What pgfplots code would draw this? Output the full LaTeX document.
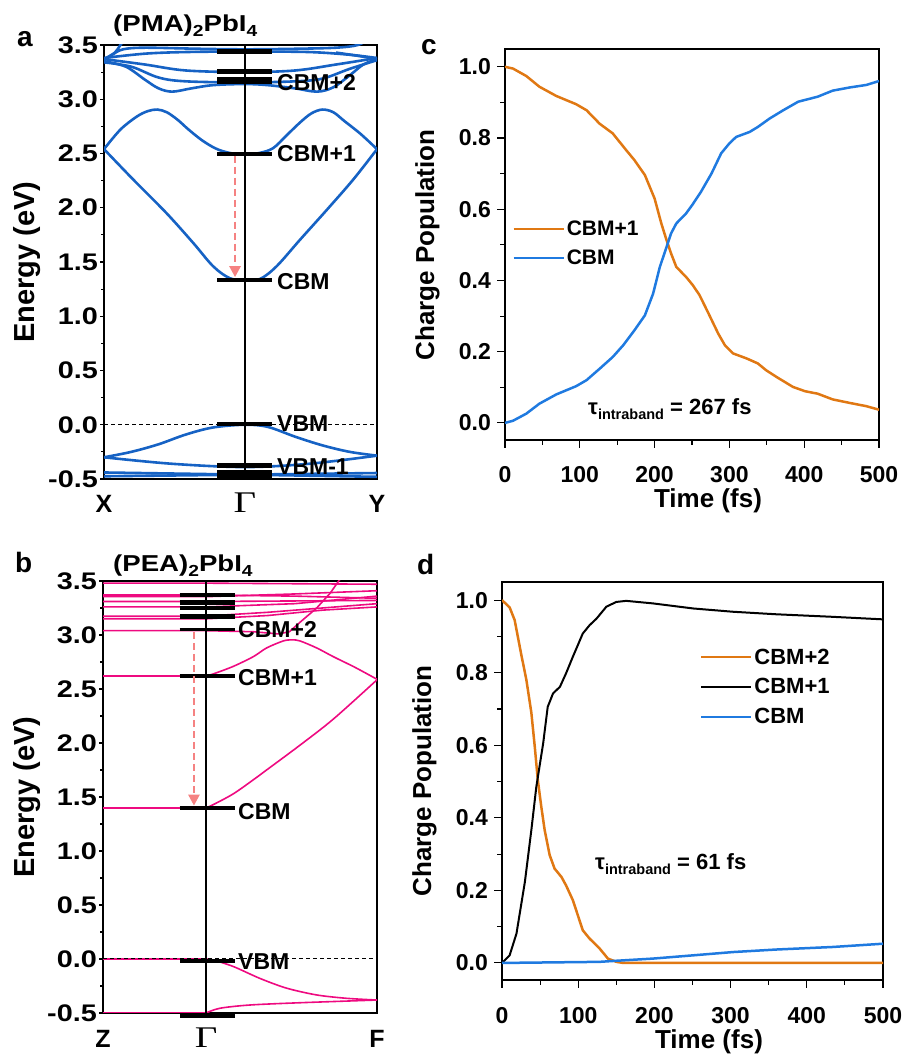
\documentclass[border=0pt]{standalone}
\usepackage{pgfplots}
\pgfplotsset{compat=1.18}
\usepackage{fontspec}
\setmainfont{Liberation Sans}
\newfontfamily\gfont{Liberation Serif}
\usepackage{graphicx}
\usetikzlibrary{arrows.meta}
\definecolor{bandblue}{HTML}{1662C4}
\definecolor{bandpink}{HTML}{EE0A80}
\definecolor{popor}{HTML}{E07813}
\definecolor{popbl}{HTML}{1F7AE0}
\definecolor{arrowc}{HTML}{F58282}
\newcommand\fs[1]{\fontsize{#1}{#1}\selectfont}
\newcommand\wt[1]{\scalebox{1.2}[1]{#1}}
\newcommand\G{\scalebox{1.3}[1]{\gfont\mdseries\fs{30}Γ}}

\pgfplotsset{
  bandax/.style={scale only axis, xmin=0, xmax=1, ymin=-0.5, ymax=3.5,
    axis line style={line width=1.3pt}, tick align=outside,
    ytick pos=left, xtick pos=bottom,
    ytick={-0.5,0,0.5,1,1.5,2,2.5,3,3.5}, minor y tick num=1,
    yticklabels={\wt{-0.5},\wt{0.0},\wt{0.5},\wt{1.0},\wt{1.5},\wt{2.0},\wt{2.5},\wt{3.0},\wt{3.5}},
    major tick length=4pt, minor tick length=3pt,
    tick style={black, line width=1.1pt},
    yticklabel style={font=\bfseries\fs{24}, anchor=east, inner sep=0pt, xshift=-2pt},
    xticklabel style={font=\bfseries\fs{25}, anchor=base, inner sep=0pt, yshift=-30pt},
    major x tick style={draw=none}},
  overax/.style={scale only axis, xmin=0, xmax=1, ymin=-0.5, ymax=3.5,
    hide axis, clip=false},
  popax/.style={scale only axis, xmin=0, xmax=500,
    axis line style={line width=1.3pt}, tick align=outside,
    ytick pos=left, xtick pos=bottom,
    xtick={0,100,200,300,400,500}, minor x tick num=1,
    ytick={0,0.2,0.4,0.6,0.8,1}, yticklabels={0.0,0.2,0.4,0.6,0.8,1.0},
    minor y tick num=1,
    major tick length=8pt, minor tick length=5pt,
    tick style={black, line width=1.1pt},
    /pgf/number format/assume math mode=true,
    yticklabel style={font=\bfseries\fs{23}, anchor=east, inner sep=0pt, xshift=-6pt},
    xticklabel style={font=\bfseries\fs{23}, anchor=base, inner sep=0pt, yshift=-35pt},
    legend cell align=left,
    legend image code/.code={\draw[##1, line width=2.5pt] (0pt,0pt) -- (50pt,0pt);}},
  ab/.style={bandblue, line width=2.6pt, smooth, tension=0.55},
  bb/.style={bandpink, line width=1.6pt},
  bar/.style={black, line width=4.5pt},
}

\begin{document}
\begin{tikzpicture}
\path[use as bounding box] (0pt,0pt) rectangle (906pt,1059pt);

% ---------------- panel a
\begin{axis}[bandax, at={(104pt,580pt)}, anchor=south west,
  width=273pt, height=434pt,
  xtick={0,0.516,1}, xticklabels={X,\G,Y}]
\addplot[ab] coordinates {(0,2.54)(0.06,2.72)(0.12,2.84)(0.16,2.89)(0.195,2.905)(0.23,2.88)(0.27,2.81)(0.31,2.72)(0.36,2.62)(0.41,2.545)(0.46,2.505)(0.516,2.49)(0.57,2.505)(0.62,2.55)(0.67,2.67)(0.72,2.79)(0.76,2.87)(0.80,2.905)(0.84,2.88)(0.88,2.80)(0.94,2.68)(1,2.54)};
\addplot[ab] coordinates {(0,2.54)(0.107,2.26)(0.229,1.95)(0.327,1.675)(0.40,1.46)(0.461,1.35)(0.516,1.335)(0.571,1.343)(0.632,1.46)(0.718,1.705)(0.816,1.98)(0.913,2.26)(1,2.54)};
\addplot[ab] coordinates {(0,3.35)(0.08,3.30)(0.15,3.18)(0.20,3.10)(0.25,3.07)(0.32,3.10)(0.40,3.13)(0.516,3.14)(0.60,3.13)(0.70,3.10)(0.78,3.07)(0.84,3.11)(0.90,3.22)(0.95,3.32)(1,3.37)};
\addplot[ab] coordinates {(0,3.34)(0.10,3.30)(0.20,3.20)(0.30,3.165)(0.516,3.155)(0.70,3.165)(0.80,3.19)(0.90,3.28)(1,3.36)};
\addplot[ab] coordinates {(0,3.37)(0.15,3.32)(0.30,3.265)(0.516,3.25)(0.70,3.265)(0.85,3.32)(1,3.38)};
\addplot[ab] coordinates {(0,3.38)(0.15,3.42)(0.30,3.435)(0.516,3.44)(0.75,3.435)(0.90,3.41)(1,3.38)};
\addplot[ab] coordinates {(0,3.36)(0.03,3.41)(0.07,3.46)(0.15,3.475)(0.35,3.465)(0.516,3.46)(0.70,3.465)(0.85,3.475)(0.93,3.50)(0.97,3.56)};
\addplot[ab] coordinates {(0,3.37)(0.04,3.43)(0.06,3.50)(0.08,3.56)};
\addplot[ab] coordinates {(0.85,3.43)(0.93,3.40)(1,3.37)};
\addplot[ab] coordinates {(0,-0.30)(0.10,-0.25)(0.20,-0.18)(0.30,-0.09)(0.40,-0.025)(0.516,0)(0.60,-0.02)(0.70,-0.11)(0.80,-0.19)(0.90,-0.25)(1,-0.285)};
\addplot[ab] coordinates {(0,-0.30)(0.25,-0.36)(0.516,-0.39)(0.75,-0.36)(1,-0.285)};
\addplot[ab] coordinates {(0,-0.44)(0.516,-0.46)(1,-0.48)};
\addplot[ab] coordinates {(0,-0.475)(0.516,-0.46)(1,-0.445)};
\end{axis}
\begin{axis}[overax, at={(104pt,580pt)}, anchor=south west, width=273pt, height=434pt]
\addplot[black, line width=1pt, dash pattern=on 4pt off 3pt] coordinates {(0,0)(1,0)};
\addplot[black, line width=1.4pt] coordinates {(0.516,-0.5)(0.516,3.5)};
\addplot[bar] coordinates {(0.414,3.44)(0.615,3.44)};
\addplot[bar] coordinates {(0.414,3.255)(0.615,3.255)};
\addplot[bar] coordinates {(0.414,3.185)(0.615,3.185)};
\addplot[bar] coordinates {(0.414,3.165)(0.615,3.165)};
\addplot[bar] coordinates {(0.414,2.497)(0.615,2.497)};
\addplot[bar] coordinates {(0.414,1.336)(0.615,1.336)};
\addplot[bar] coordinates {(0.414,0.009)(0.615,0.009)};
\addplot[bar] coordinates {(0.414,-0.376)(0.615,-0.376)};
\addplot[bar] coordinates {(0.414,-0.44)(0.615,-0.44)};
\addplot[bar] coordinates {(0.414,-0.47)(0.615,-0.47)};
\addplot[arrowc, line width=2.5pt, dash pattern=on 7pt off 4pt,
  -{Triangle[length=11pt,width=11pt]}] coordinates {(0.48,2.48)(0.48,1.36)};
\end{axis}

% ---------------- panel b
\begin{axis}[bandax, at={(103pt,46pt)}, anchor=south west,
  width=274pt, height=432pt,
  xtick={0,0.376,1}, xticklabels={Z,\G,F}]
\addplot[bb] coordinates {(0,3.48)(0.376,3.48)(1,3.47)};
\addplot[bb] coordinates {(0,3.37)(0.376,3.37)(0.7,3.36)(1,3.34)};
\addplot[bb] coordinates {(0,3.355)(0.376,3.355)(0.7,3.38)(1,3.41)};
\addplot[bb] coordinates {(0,3.31)(0.376,3.31)(1,3.32)};
\addplot[bb] coordinates {(0,3.26)(0.376,3.26)(0.7,3.29)(1,3.36)};
\addplot[bb] coordinates {(0,3.175)(0.376,3.175)(0.6,3.21)(1,3.29)};
\addplot[bb] coordinates {(0,3.15)(0.376,3.15)(0.6,3.18)(0.8,3.23)(1,3.26)};
\addplot[bb] coordinates {(0,3.04)(0.376,3.04)(0.55,3.03)(0.64,3.01)(0.68,3.03)(0.72,3.12)(0.78,3.25)(0.83,3.39)(0.86,3.5)(0.88,3.56)};
\addplot[bb] coordinates {(0,2.62)(0.376,2.62)};
\addplot[bb, smooth] coordinates {(0.376,2.62)(0.403,2.64)(0.476,2.71)(0.549,2.80)(0.597,2.88)(0.658,2.945)(0.69,2.955)(0.719,2.945)(0.78,2.88)(0.84,2.80)(0.92,2.70)(1,2.59)};
\addplot[bb] coordinates {(0,1.40)(0.376,1.40)};
\addplot[bb, smooth] coordinates {(0.376,1.40)(0.403,1.43)(0.476,1.53)(0.549,1.66)(0.597,1.75)(0.719,1.98)(0.84,2.22)(1,2.585)};
\addplot[bb] coordinates {(0,0)(0.376,0)};
\addplot[bb, smooth] coordinates {(0.376,0)(0.403,-0.01)(0.476,-0.07)(0.573,-0.18)(0.67,-0.27)(0.78,-0.333)(0.889,-0.364)(1,-0.38)};
\addplot[bb] coordinates {(0,-0.5)(0.376,-0.5)};
\addplot[bb, smooth] coordinates {(0.376,-0.5)(0.427,-0.456)(0.536,-0.426)(0.719,-0.405)(1,-0.38)};
\end{axis}
\begin{axis}[overax, at={(103pt,46pt)}, anchor=south west, width=274pt, height=432pt]
\addplot[black, line width=1pt, dash pattern=on 4pt off 3pt] coordinates {(0,0)(1,0)};
\addplot[black, line width=1.1pt] coordinates {(0.376,-0.5)(0.376,3.5)};
\addplot[bar] coordinates {(0.28,3.37)(0.48,3.37)};
\addplot[bar] coordinates {(0.28,3.30)(0.48,3.30)};
\addplot[bar] coordinates {(0.28,3.25)(0.48,3.25)};
\addplot[bar] coordinates {(0.28,3.17)(0.48,3.17)};
\addplot[black, line width=3pt] coordinates {(0.28,3.055)(0.48,3.055)};
\addplot[bar] coordinates {(0.28,2.62)(0.48,2.62)};
\addplot[bar] coordinates {(0.28,1.40)(0.48,1.40)};
\addplot[bar] coordinates {(0.28,-0.02)(0.48,-0.02)};
\addplot[bar] coordinates {(0.28,-0.525)(0.48,-0.525)};
\addplot[arrowc, line width=2.5pt, dash pattern=on 7pt off 4pt,
  -{Triangle[length=11pt,width=11pt]}] coordinates {(0.332,3.03)(0.332,1.42)};
\end{axis}

% ---------------- panel c
\begin{axis}[popax, at={(505pt,619pt)}, anchor=south west,
  width=374pt, height=391pt, ymin=-0.048, ymax=1.05,
  legend style={at={(0.019,0.566)}, anchor=north west, draw=none, fill=none,
    font=\bfseries\fs{21}, row sep=9pt, inner sep=0pt}]
\addplot[popor, line width=2.5pt] coordinates {(0,1.0)(10.7,0.995)(28.5,0.974)(46,0.944)(68.6,0.918)(95,0.895)(109,0.878)(126.6,0.84)(144,0.813)(162,0.766)(173,0.738)(187,0.696)(200,0.63)(209,0.56)(216,0.513)(222,0.476)(229,0.438)(242,0.41)(251,0.387)(260,0.359)(271,0.312)(285,0.251)(294,0.218)(305,0.195)(323,0.181)(338,0.167)(349,0.148)(363,0.129)(385,0.101)(401,0.089)(418,0.082)(438,0.066)(461,0.056)(483,0.047)(500,0.037)};
\addlegendentry{CBM+1}
\addplot[popbl, line width=2.5pt] coordinates {(0,0)(10.7,0.006)(28.5,0.026)(46,0.054)(68.6,0.080)(95,0.103)(109,0.12)(127,0.153)(144,0.185)(158,0.218)(173,0.26)(187,0.302)(198,0.363)(207,0.438)(216,0.494)(222,0.532)(229,0.56)(242,0.588)(251,0.614)(262,0.649)(276,0.70)(289,0.757)(300,0.785)(309,0.803)(327,0.817)(338,0.831)(354,0.855)(372,0.878)(392,0.902)(418,0.916)(438,0.933)(461,0.942)(483,0.949)(500,0.96)};
\addlegendentry{CBM}
\end{axis}

% ---------------- panel d
\begin{axis}[popax, at={(502pt,79pt)}, anchor=south west,
  width=381pt, height=398pt, ymin=-0.047, ymax=1.05,
  legend style={at={(0.519,0.838)}, anchor=north west, draw=none, fill=none,
    font=\bfseries\fs{22}, row sep=9pt, inner sep=0pt}]
\addplot[popor, line width=2.5pt] coordinates {(0,1.0)(10,0.98)(16.6,0.945)(25,0.853)(32,0.78)(38.5,0.69)(43,0.596)(47,0.504)(51.6,0.43)(56,0.366)(62.6,0.297)(69,0.26)(78,0.237)(84,0.214)(93,0.173)(106,0.09)(115,0.067)(128,0.04)(139,0.012)(150,0.003)(159,0)(500,0)};
\addlegendentry{CBM+2}
\addplot[black, line width=2pt] coordinates {(0,0)(10,0.021)(19,0.081)(30,0.223)(38.5,0.366)(45,0.485)(54,0.605)(60,0.706)(67,0.743)(76,0.761)(84,0.798)(93,0.844)(106,0.908)(115,0.931)(124,0.949)(137,0.982)(150,0.995)(163,0.998)(198,0.991)(251,0.977)(303,0.968)(360,0.961)(434,0.954)(500,0.947)};
\addlegendentry{CBM+1}
\addplot[popbl, line width=2.5pt] coordinates {(0,0)(128,0.003)(150,0.006)(198,0.012)(251,0.021)(303,0.03)(360,0.037)(434,0.044)(500,0.053)};
\addlegendentry{CBM}
\end{axis}

% ---------------- texts
\begin{scope}[every node/.style={inner sep=0pt}]
\node[anchor=base west, font=\bfseries\fs{28}] at (17pt,1012pt) {a};
\node[anchor=base west, font=\bfseries\fs{28}] at (15pt,486pt) {b};
\node[anchor=base west, font=\bfseries\fs{28}] at (421pt,1004pt) {c};
\node[anchor=base west, font=\bfseries\fs{28}] at (417pt,484pt) {d};
\node[anchor=base west, font=\bfseries\fs{23}] at (113pt,1027pt)
  {\scalebox{1.2}[1]{(PMA)\raisebox{-0.35ex}{\fs{16}2}PbI\raisebox{-0.35ex}{\fs{16}4}}};
\node[anchor=base west, font=\bfseries\fs{23}] at (113pt,487pt)
  {\scalebox{1.2}[1]{(PEA)\raisebox{-0.35ex}{\fs{16}2}PbI\raisebox{-0.35ex}{\fs{16}4}}};
\node[anchor=base, rotate=90, font=\bfseries\fs{29}] at (34pt,797pt) {Energy (eV)};
\node[anchor=base, rotate=90, font=\bfseries\fs{29}] at (34pt,262pt) {Energy (eV)};
\node[anchor=base, rotate=90, font=\bfseries\fs{26}] at (434pt,814pt) {Charge Population};
\node[anchor=base, rotate=90, font=\bfseries\fs{26}] at (431pt,278pt) {Charge Population};
\node[anchor=base, font=\bfseries\fs{26}] at (708pt,551pt) {Time (fs)};
\node[anchor=base, font=\bfseries\fs{26}] at (709pt,10pt) {Time (fs)};
\begin{scope}[every node/.append style={anchor=west, font=\bfseries\fs{23}}]
\node at (277pt,976pt) {CBM+2};
\node at (277pt,905pt) {CBM+1};
\node at (277pt,777pt) {CBM};
\node at (277pt,635pt) {VBM};
\node at (277pt,592pt) {VBM-1};
\node at (238pt,429pt) {CBM+2};
\node at (238pt,381pt) {CBM+1};
\node at (238pt,247pt) {CBM};
\node at (238pt,97pt) {VBM};
\end{scope}
\node[anchor=base west, font=\bfseries\fs{22}] at (588pt,644pt)
  {τ\raisebox{-0.4ex}{\fs{14.5}intraband} = 267 fs};
\node[anchor=base west, font=\bfseries\fs{22}] at (595pt,189pt)
  {τ\raisebox{-0.4ex}{\fs{14.5}intraband} = 61 fs};
\end{scope}
\end{tikzpicture}
\end{document}
